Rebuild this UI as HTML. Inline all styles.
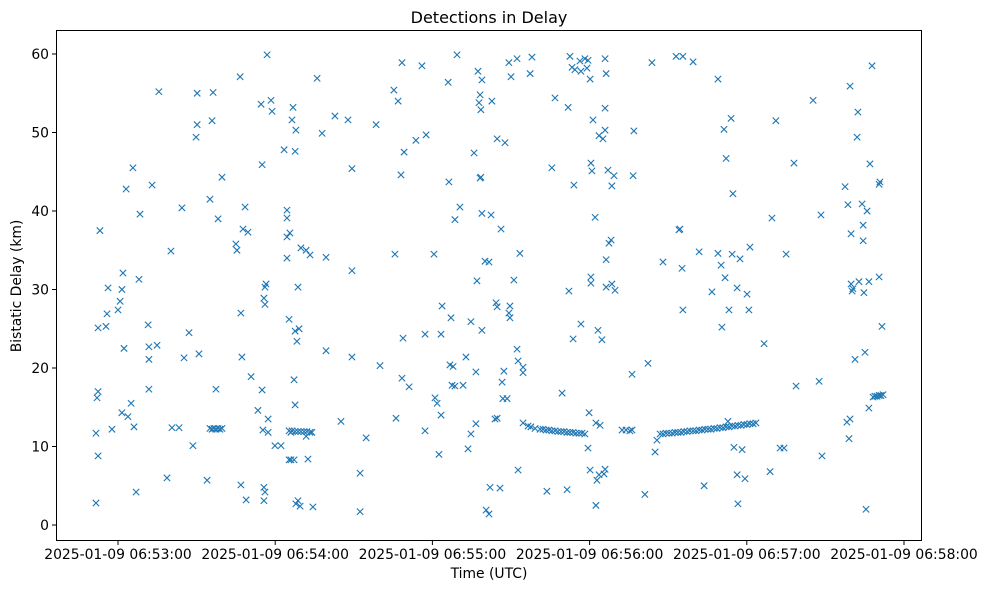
<!DOCTYPE html>
<html>
<head>
<meta charset="utf-8">
<style>
  html, body { margin: 0; padding: 0; background: #ffffff; }
  svg { display: block; font-family: "DejaVu Sans", "Liberation Sans", sans-serif; }
</style>
</head>
<body>
<svg id="chart" width="988" height="590" viewBox="0 0 988 590">
  <rect x="0" y="0" width="988" height="590" fill="#ffffff"></rect>
  <text x="489" y="23" text-anchor="middle" font-size="16" fill="#000">Detections in Delay</text>
  <g id="marks"></g>
  <g id="axes"></g>
  <rect x="56.5" y="30.5" width="865" height="510" fill="none" stroke="#000" stroke-width="1"></rect>
  <text x="489" y="578" text-anchor="middle" font-size="13.9" fill="#000">Time (UTC)</text>
  <text x="21" y="286" text-anchor="middle" font-size="13.9" fill="#000" transform="rotate(-90 21 286)">Bistatic Delay (km)</text>
</svg>
<script>
// Times are seconds after 2025-01-09 06:53:00 UTC; delays in km.
const timesA = [-8.4,-8.4,-8.0,-7.6,-7.6,-7.6,-6.9,-4.6,-4.2,-3.8,-2.3,0,0.8,1.5,1.9,2.3,1.5,3.1,3.8,5.7,5.0,6.1,6.9,8.0,8.4,11.5,11.8,11.8,11.8,13.0,14.9,15.6,18.7,20.2,20.6,23.3,24.4,25.2,27.1,28.6,29.8,30.2,30.2,30.9,34.0,35.1,35.9,36.3];
const delaysA = [2.8,11.7,16.2,17.0,8.8,25.1,37.5,25.3,26.9,30.2,12.2,27.4,28.5,30.0,32.1,22.5,14.3,42.8,13.8,45.5,15.5,12.5,4.2,31.3,39.6,25.5,22.7,21.1,17.3,43.3,22.9,55.2,6.0,34.9,12.4,12.4,40.4,21.3,24.5,10.1,49.4,51.0,55.0,21.8,5.7,41.5,51.5,55.1];
const timesB = [35.1,35.9,36.6,37.4,38.2,38.9,39.7,37.4,38.2,39.7];
const delaysB = [12.3,12.2,12.3,12.2,12.3,12.2,12.3,17.3,39.0,44.3];
const timesC = [45.0,45.4,46.6,46.9,47.3,47.7,48.5,49.6,50.8,46.9,48.9,53.4,54.6,55.0,55.0,55.3,55.7,56.1,55.7,55.7,56.1,56.1,56.5,56.9,57.3,57.3,58.4,58.8,59.9];
const delaysC = [35.8,35.0,57.1,27.0,21.4,37.7,40.5,37.3,18.9,5.1,3.2,14.6,53.6,45.9,17.2,12.1,4.8,4.2,3.1,28.9,28.1,30.3,30.7,59.9,11.8,13.5,54.1,52.7,10.1];
const timesD = [65.3,66.4,67.6,68.7,69.8,71.0,72.1,73.3,74.0,62.2,63.4,64.5,64.5,64.5,64.5,65.3,65.6,66.0,65.3,66.0,67.2,66.4,66.8,67.6,67.2,67.6,67.9,67.6,68.3,68.7,67.9,68.7,69.5,69.1,69.8,71.8,71.8,72.5,73.3,74.4];
const delaysD = [12.0,12.0,11.9,11.9,11.9,11.9,11.9,11.8,11.8,10.1,47.8,36.7,34.0,40.1,39.1,26.2,37.2,11.8,8.3,8.3,8.3,51.6,53.2,47.6,18.5,15.3,50.3,24.7,23.4,30.3,2.7,3.1,2.4,25.0,35.3,35.0,11.3,8.4,34.4,2.3];
const timesE = [76.0,77.9,79.4,79.4,82.8,85.1,87.8,89.3,89.3,89.3,92.4,92.4,94.7,98.5,100.0,105.3,106.1,105.7,106.9,108.4,108.0,108.4,108.8,109.2,111.1,113.7,116.0,117.6,117.2,117.2,120.6,121.0,121.8,122.5,123.3,123.3,123.7,126.0,126.3,126.7,127.1,127.5,127.9,128.6,128.6,129.4,130.5,131.7,132.8];
const delaysE = [56.9,49.9,34.1,22.2,52.1,13.2,51.6,45.4,21.4,32.4,6.6,1.7,11.1,51.0,20.3,55.4,13.6,34.5,54.0,58.9,44.6,18.7,23.8,47.5,17.6,49.0,58.5,49.7,24.3,12.0,34.5,16.2,15.5,9.0,24.3,14.0,27.9,56.4,43.7,20.4,26.4,17.8,20.2,17.7,38.9,59.9,40.5,17.8,21.4];
const timesF = [133.6,134.7,134.7,135.9,136.6,136.6,137.0,137.4,137.8,138.2,138.2,138.5,138.5,138.9,138.9,138.9,140.5,140.1,141.6,141.6,142.0,142.4,142.7,143.9,144.3,144.7,144.7,144.7,145.8,146.2,146.6,146.9,147.3,147.7,148.5,149.2,149.6,149.2,149.6,150.0,151.1,152.3,152.3,152.7,152.7,153.4,154.6,154.6,154.6,156.5,157.3,158.0,157.6];
const delaysF = [9.7,25.9,11.6,47.4,12.9,19.5,31.1,57.8,53.8,54.8,44.2,52.9,44.3,39.7,56.7,24.8,1.9,33.6,33.5,1.4,4.8,39.5,54.0,13.5,28.3,49.2,13.6,27.8,4.7,37.7,18.2,16.1,19.6,48.7,16.1,27.0,26.4,58.9,27.9,57.1,31.2,59.4,22.4,7.0,20.9,34.6,20.1,19.4,13.0,12.6,57.5,59.6,12.5];
const timesG = [159.2,161.1,162.2,163.4,164.5,165.6,166.8,167.9,169.1,170.2,171.4,172.5,173.7,174.8,176.0,177.1,178.2];
const delaysG = [12.3,12.2,12.2,12.1,12.1,12.0,12.0,11.9,11.9,11.9,11.8,11.8,11.8,11.7,11.7,11.7,11.6];
const timesH = [163.7,165.6,166.8,169.5,171.4,171.8,172.1,172.5,173.3,173.7,174.0,174.4,176.3,176.7,176.7,178.2,179.0,179.4,179.4,179.8,180.2,180.2,180.5,180.5,180.5,180.9,181.3,182.1,182.4,182.4,182.8,183.2,183.6,183.6,184.0,184.7,185.1,185.5,185.9,185.9,185.9,186.3,185.9,186.3,186.3,187.0,187.4,188.2,188.5,188.5,189.3,189.7];
const delaysH = [4.3,45.5,54.4,16.8,4.5,53.2,29.8,59.7,58.3,23.7,43.3,58.0,59.1,25.6,57.8,59.4,58.2,59.2,9.8,14.3,56.8,7.0,30.8,46.1,31.6,45.1,51.6,39.2,2.5,13.0,5.7,24.8,49.6,6.4,12.7,23.6,49.2,6.5,53.1,50.3,7.1,30.3,59.4,57.5,33.8,45.2,35.9,36.3,43.2,30.7,44.5,29.9];
const timesI = [192.4,193.9,195.4,196.2,196.2,196.6,196.9,201.1,202.3,203.8,205.0,205.7];
const delaysI = [12.1,12.1,12.0,12.1,19.2,44.5,50.2,3.9,20.6,58.9,9.3,10.8];
const timesJ = [206.9,208.0,209.2,210.3,211.5,212.6,213.7,214.9,216.0,217.2,218.3,219.5,220.6,221.8,222.9,224.0,225.2,226.3,227.5,228.6,229.8,230.9,232.1,233.2,234.4,235.5,236.6,237.8,238.9,240.1,241.2,242.4,243.5];
const delaysJ = [11.6,11.6,11.7,11.7,11.7,11.8,11.8,11.8,11.9,11.9,12.0,12.0,12.0,12.1,12.1,12.2,12.2,12.2,12.3,12.3,12.4,12.4,12.5,12.5,12.6,12.6,12.7,12.7,12.8,12.8,12.9,12.9,13.0];
const timesK = [208.0,213.0,214.1,214.5,215.3,215.6,215.6,219.5,221.8,223.7,226.7,229.0,229.0,230.2,230.5,231.3,231.7,232.1,232.8,233.2,234.0,234.4,234.7,235.1,236.3,236.3,236.6,237.4,238.2,239.3,240.1,240.8,241.2];
const delaysK = [33.5,59.7,37.6,37.7,32.7,59.7,27.4,59.0,34.8,5.0,29.7,34.6,56.8,33.1,25.2,50.4,31.5,46.7,13.2,27.4,51.8,34.5,42.2,9.9,6.4,30.2,2.7,33.9,9.6,5.9,29.4,27.4,35.4];
const timesL = [246.6,248.9,249.6,251.1,252.7,254.2,255.0,258.0,258.8,265.3,267.6,268.3,268.7,277.5,278.2,278.6,279.0,279.4,279.4,279.8,279.8,280.2,280.5,281.3,282.1,282.4,282.8,284.0,284.4,284.4,284.7,285.1,285.5,285.9,286.6,286.6,287.0,287.8,288.2,288.9,289.7,290.5,291.2,292.0,290.5,290.8,290.5,291.6];
const delaysL = [23.1,6.8,39.1,51.5,9.8,9.8,34.5,46.1,17.7,54.1,18.3,39.5,8.8,43.1,13.1,40.8,11.0,13.5,55.9,37.1,30.7,29.8,30.1,21.1,49.4,52.6,31.0,40.9,38.2,36.2,29.6,22.0,2.0,40.0,14.9,31.0,46.0,58.5,16.3,16.4,16.4,16.5,16.5,16.6,43.4,43.7,31.6,25.3];

const xTickValues = [0, 60, 120, 180, 240, 300];
const xTickLabels = ["2025-01-09 06:53:00","2025-01-09 06:54:00","2025-01-09 06:55:00","2025-01-09 06:56:00","2025-01-09 06:57:00","2025-01-09 06:58:00"];
const yTickValues = [0, 10, 20, 30, 40, 50, 60];

const times = [].concat(timesA,timesB,timesC,timesD,timesE,timesF,timesG,timesH,timesI,timesJ,timesK,timesL);
const delays = [].concat(delaysA,delaysB,delaysC,delaysD,delaysE,delaysF,delaysG,delaysH,delaysI,delaysJ,delaysK,delaysL);

const NS = "http://www.w3.org/2000/svg";
function xScale(t) { return 118 + t * (157.2 / 60); }
function yScale(d) { return 525 - d * 7.85; }

const axes = document.getElementById('axes');
xTickValues.forEach((v, i) => {
  const x = xScale(v);
  const tick = document.createElementNS(NS, 'line');
  tick.setAttribute('x1', x); tick.setAttribute('x2', x);
  tick.setAttribute('y1', 541); tick.setAttribute('y2', 545);
  tick.setAttribute('stroke', '#000');
  
  
  axes.appendChild(tick);
  const lab = document.createElementNS(NS, 'text');
  lab.setAttribute('x', x); lab.setAttribute('y', 559);
  lab.setAttribute('text-anchor', 'middle');
  lab.setAttribute('font-size', '13.9');
  lab.textContent = xTickLabels[i];
  
  
  axes.appendChild(lab);
});
yTickValues.forEach(v => {
  const y = yScale(v);
  const tick = document.createElementNS(NS, 'line');
  tick.setAttribute('x1', 52); tick.setAttribute('x2', 56);
  tick.setAttribute('y1', y); tick.setAttribute('y2', y);
  tick.setAttribute('stroke', '#000');
  
  
  axes.appendChild(tick);
  const lab = document.createElementNS(NS, 'text');
  lab.setAttribute('x', 49); lab.setAttribute('y', y + 5);
  lab.setAttribute('text-anchor', 'end');
  lab.setAttribute('font-size', '13.9');
  lab.textContent = String(v);
  
  
  axes.appendChild(lab);
});

const marks = document.getElementById('marks');
const s = 3.2;
times.forEach((t, i) => {
  const cx = xScale(t), cy = yScale(delays[i]);
  const p = document.createElementNS(NS, 'path');
  p.setAttribute('d', `M${cx-s},${cy-s}L${cx+s},${cy+s}M${cx-s},${cy+s}L${cx+s},${cy-s}`);
  p.setAttribute('stroke', '#1f77b4');
  p.setAttribute('stroke-width', '1.1');
  p.setAttribute('fill', 'none');
  
  
  marks.appendChild(p);
});
</script>
</body>
</html>
